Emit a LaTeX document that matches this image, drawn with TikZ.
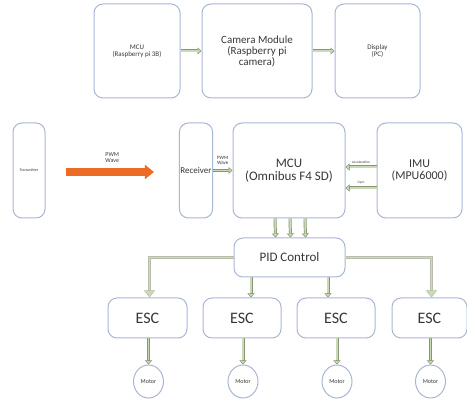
\documentclass[tikz,border=0pt]{standalone}
\usepackage{fontspec}
\setmainfont{Carlito}
\usetikzlibrary{arrows.meta,shapes.geometric,positioning}

\definecolor{boxline}{RGB}{168,182,214}
\definecolor{arrfill}{RGB}{200,220,180}
\definecolor{arredge}{RGB}{138,148,118}
\definecolor{wave}{RGB}{236,108,38}
\definecolor{txt}{RGB}{55,55,55}

\newcommand{\fs}[1]{\fontsize{#1}{#1}\selectfont}

\begin{document}
\begin{tikzpicture}[
        x=1pt, y=-1pt,
        blk/.style = {draw=boxline, rounded corners=9pt, line width=1pt, align=center, text=txt, inner sep=1pt},
        motor/.style = {draw=boxline, ellipse, line width=1pt, minimum width=30pt, minimum height=33pt, inner sep=0pt, text=txt, font=\fs{6}},
        garrow/.style = {draw=arredge, line width=3pt, -{Triangle[length=4pt, width=7pt, fill=arrfill, line width=0.5pt]},
                postaction={draw=arrfill, line width=1.6pt, -{}, shorten >=4pt}},
        gbend/.style = {draw=arredge!60, line width=2.6pt, -{Triangle[length=7pt, width=11pt, fill=arrfill, line width=0.5pt]},
                postaction={draw=arrfill, line width=1.6pt, -{}, shorten >=7pt}},
        small/.style = {text=txt, align=center, inner sep=1pt},
        ]
        \useasboundingbox (0,0) rectangle (467,401);
        % top row
        \node[blk, minimum width=86pt, minimum height=94pt, font=\fs{7}] (rpi) at (137,51) {MCU\\(Raspberry pi 3B)};
        \node[blk, minimum width=110pt, minimum height=94pt, font=\fs{11}] (cam) at (257,51) {Camera Module\\(Raspberry pi\\camera)};
        \node[blk, minimum width=85pt, minimum height=94pt, font=\fs{7}] (disp) at (377.5,51) {Display\\(PC)};
        \draw[garrow] (rpi) -- (cam);
        \draw[garrow] (cam) -- (disp);
        % flight controller row
        \node[blk, minimum width=32pt, minimum height=95pt, font=\fs{4}] (tx) at (29,170.5) {Transmitter};
        \node[blk, minimum width=32pt, minimum height=95pt, font=\fs{9}] (rx) at (196,170.5) {Receiver};
        \node[blk, minimum width=112pt, minimum height=95pt, font=\fs{13}] (mcu) at (289,170.5) {MCU\\(Omnibus F4 SD)};
        \node[blk, minimum width=85pt, minimum height=95pt, font=\fs{12}] (imu) at (419.5,170.5) {IMU\\(MPU6000)};
        \draw[wave, line width=8pt, -{Triangle[length=9pt, width=14pt]}, shorten <=20pt, shorten >=25pt] ([yshift=-1.5pt]tx.east) -- ([yshift=-1.5pt]rx.west)
                node[midway, above=4pt, small, font=\fs{6}] {PWM\\Wave};
        \draw[garrow] (rx) -- (mcu) node[midway, above=3pt, small, font=\fs{5}] {PWM\\Wave};
        \draw[garrow] ([yshift=3.5pt]imu.west) -- ([yshift=3.5pt]mcu.east) node[midway, above=1pt, small, font=\fs{3.5}] {Acceleration};
        \draw[garrow] ([yshift=-17.5pt]imu.west) -- ([yshift=-17.5pt]mcu.east) node[midway, above=1pt, small, font=\fs{3.5}] {Gyro};
        % control
        \node[blk, minimum width=111pt, minimum height=39pt, font=\fs{13}] (pid) at (289.5,257.5) {PID Control};
        \foreach \dx in {-14,1,16}
            \draw[garrow] ([xshift=\dx pt]mcu.south) -- ([xshift=\dx pt]pid.north);
        % ESC and motors
        \foreach \i/\xx/\w in {1/147.5/79, 2/242/78, 3/336/78, 4/429.5/75} {
            \node[blk, minimum width=\w pt, minimum height=40pt, font=\fs{16}] (esc\i) at (\xx,318) {ESC};
            \node[motor] (mot\i) at (\xx+1,381.5) {Motor};
            \draw[garrow] ([xshift=1pt]esc\i.south) -- (mot\i);
        }
        \draw[gbend] (pid.west) -| ([xshift=2pt]esc1.north);
        \draw[gbend] (pid.east) -| ([xshift=2pt]esc4.north);
        \draw[garrow] ([xshift=-38.5pt]pid.south) -- ([xshift=-38.5pt]pid.south |- esc2.north);
        \draw[garrow] ([xshift=38.5pt]pid.south) -- ([xshift=38.5pt]pid.south |- esc3.north);
\end{tikzpicture}
\end{document}
